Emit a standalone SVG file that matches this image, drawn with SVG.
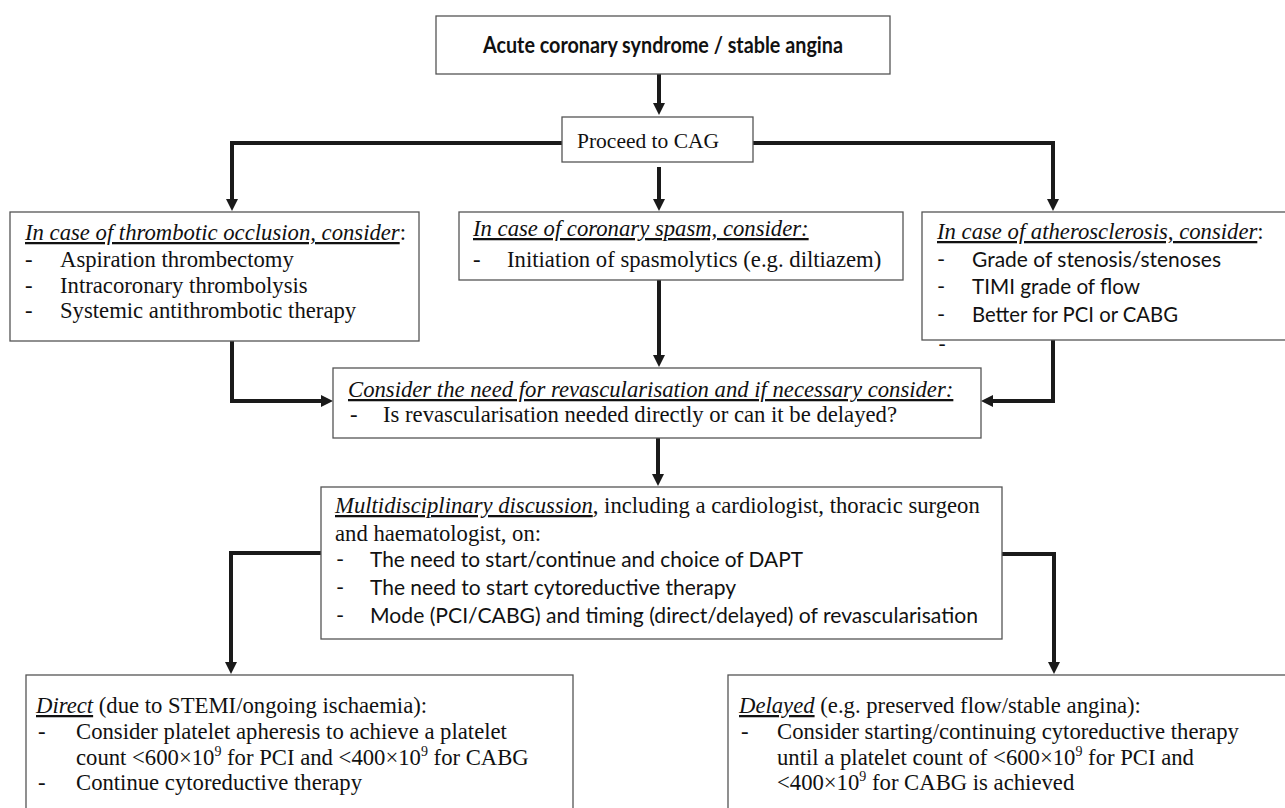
<svg xmlns="http://www.w3.org/2000/svg" width="1285" height="808" viewBox="0 0 1285 808">
<style>
.box{fill:#fff;stroke:#555;stroke-width:1.3}
.s{font-family:"Liberation Serif","Times New Roman",serif;font-size:22.7px;fill:#111}
.ss{font-family:Lato,"Liberation Sans",sans-serif;font-size:22px;fill:#111}
.t{font-family:Lato,"Liberation Sans",sans-serif;font-size:23px;font-weight:bold;fill:#111}
.i{font-style:italic;text-decoration:underline}
.c{fill:none;stroke:#1a1a1a;stroke-width:4;stroke-linejoin:miter}
</style>
<defs>
<marker id="ah" markerWidth="12" markerHeight="12" refX="2" refY="6" orient="auto" markerUnits="userSpaceOnUse">
<path d="M0,0 L12,6 L0,12 z" fill="#1a1a1a"/>
</marker>
</defs>
<rect width="1285" height="808" fill="#fff"/>
<g id="connectors">
<path class="c" d="M659,74 V105" marker-end="url(#ah)"/>
<path class="c" d="M659,143 H232 V201" marker-end="url(#ah)"/>
<path class="c" d="M659,143 H1053 V201" marker-end="url(#ah)"/>
<path class="c" d="M659,167 V201" marker-end="url(#ah)"/>
<path class="c" d="M232,341 V401 H323" marker-end="url(#ah)"/>
<path class="c" d="M659,280 V357" marker-end="url(#ah)"/>
<path class="c" d="M1053,340 V401 H991" marker-end="url(#ah)"/>
<path class="c" d="M658,438 V476" marker-end="url(#ah)"/>
<path class="c" d="M321,553 H231 V664" marker-end="url(#ah)"/>
<path class="c" d="M1002,554 H1054 V664" marker-end="url(#ah)"/>
</g>
<g id="n-acs">
<rect class="box" x="436" y="16" width="454" height="58"/>
<text class="t" x="663" y="53" text-anchor="middle" textLength="360" lengthAdjust="spacingAndGlyphs">Acute coronary syndrome / stable angina</text>
</g>
<g id="n-cag">
<rect class="box" x="562" y="117" width="191" height="45"/>
<text class="s" x="577" y="148" style="font-size:21.5px">Proceed to CAG</text>
</g>
<g id="n-thrombotic">
<rect class="box" x="10" y="212" width="409" height="129"/>
<text class="s" x="25" y="240"><tspan class="i">In case of thrombotic occlusion, consider</tspan>:</text>
<text class="s" x="25" y="267">-</text><text class="s" x="60" y="267">Aspiration thrombectomy</text>
<text class="s" x="25" y="293">-</text><text class="s" x="60" y="293">Intracoronary thrombolysis</text>
<text class="s" x="25" y="318">-</text><text class="s" x="60" y="318">Systemic antithrombotic therapy</text>
</g>
<g id="n-spasm">
<rect class="box" x="459" y="212" width="444" height="68"/>
<text class="s" x="473" y="236"><tspan class="i">In case of coronary spasm, consider:</tspan></text>
<text class="s" x="473" y="267">-</text><text class="s" x="507" y="267">Initiation of spasmolytics (e.g. diltiazem)</text>
</g>
<g id="n-athero">
<rect class="box" x="922" y="212" width="368" height="128"/>
<text class="s" x="937" y="239"><tspan class="i">In case of atherosclerosis, consider</tspan>:</text>
<text class="ss" x="937" y="267">-</text><text class="ss" x="972" y="267" textLength="249" lengthAdjust="spacingAndGlyphs">Grade of stenosis/stenoses</text>
<text class="ss" x="937" y="294">-</text><text class="ss" x="972" y="294" textLength="168" lengthAdjust="spacingAndGlyphs">TIMI grade of flow</text>
<text class="ss" x="937" y="322">-</text><text class="ss" x="972" y="322" textLength="206" lengthAdjust="spacingAndGlyphs">Better for PCI or CABG</text>
<text class="ss" x="938" y="352">-</text>
</g>
<g id="n-consider">
<rect class="box" x="333" y="368" width="648" height="70"/>
<text class="s" x="348" y="397"><tspan class="i">Consider the need for revascularisation and if necessary consider:</tspan></text>
<text class="s" x="350" y="422">-</text><text class="s" x="383" y="422">Is revascularisation needed directly or can it be delayed?</text>
</g>
<g id="n-mdt">
<rect class="box" x="321" y="487" width="681" height="152"/>
<text class="s" x="335" y="513"><tspan class="i">Multidisciplinary discussion</tspan>, including a cardiologist, thoracic surgeon</text>
<text class="s" x="335" y="541">and haematologist, on:</text>
<text class="ss" x="336" y="567">-</text><text class="ss" x="370" y="567" textLength="433" lengthAdjust="spacingAndGlyphs">The need to start/continue and choice of DAPT</text>
<text class="ss" x="336" y="595">-</text><text class="ss" x="370" y="595" textLength="366" lengthAdjust="spacingAndGlyphs">The need to start cytoreductive therapy</text>
<text class="ss" x="336" y="623">-</text><text class="ss" x="370" y="623" textLength="608" lengthAdjust="spacingAndGlyphs">Mode (PCI/CABG) and timing (direct/delayed) of revascularisation</text>
</g>
<g id="n-direct">
<rect class="box" x="26" y="675" width="547" height="150"/>
<text class="s" x="36" y="713"><tspan class="i">Direct</tspan> (due to STEMI/ongoing ischaemia):</text>
<text class="s" x="38" y="739">-</text><text class="s" x="76" y="739">Consider platelet apheresis to achieve a platelet</text>
<text class="s" x="76" y="765">count &lt;600×10<tspan font-size="14" dy="-9">9</tspan><tspan dy="9"> for PCI and &lt;400×10</tspan><tspan font-size="14" dy="-9">9</tspan><tspan dy="9"> for CABG</tspan></text>
<text class="s" x="38" y="790">-</text><text class="s" x="76" y="790">Continue cytoreductive therapy</text>
</g>
<g id="n-delayed">
<rect class="box" x="728" y="675" width="562" height="150"/>
<text class="s" x="739" y="713"><tspan class="i">Delayed</tspan> (e.g. preserved flow/stable angina):</text>
<text class="s" x="741" y="739">-</text><text class="s" x="777" y="739">Consider starting/continuing cytoreductive therapy</text>
<text class="s" x="777" y="765">until a platelet count of &lt;600×10<tspan font-size="14" dy="-9">9</tspan><tspan dy="9"> for PCI and</tspan></text>
<text class="s" x="777" y="790">&lt;400×10<tspan font-size="14" dy="-9">9</tspan><tspan dy="9"> for CABG is achieved</tspan></text>
</g>
</svg>
